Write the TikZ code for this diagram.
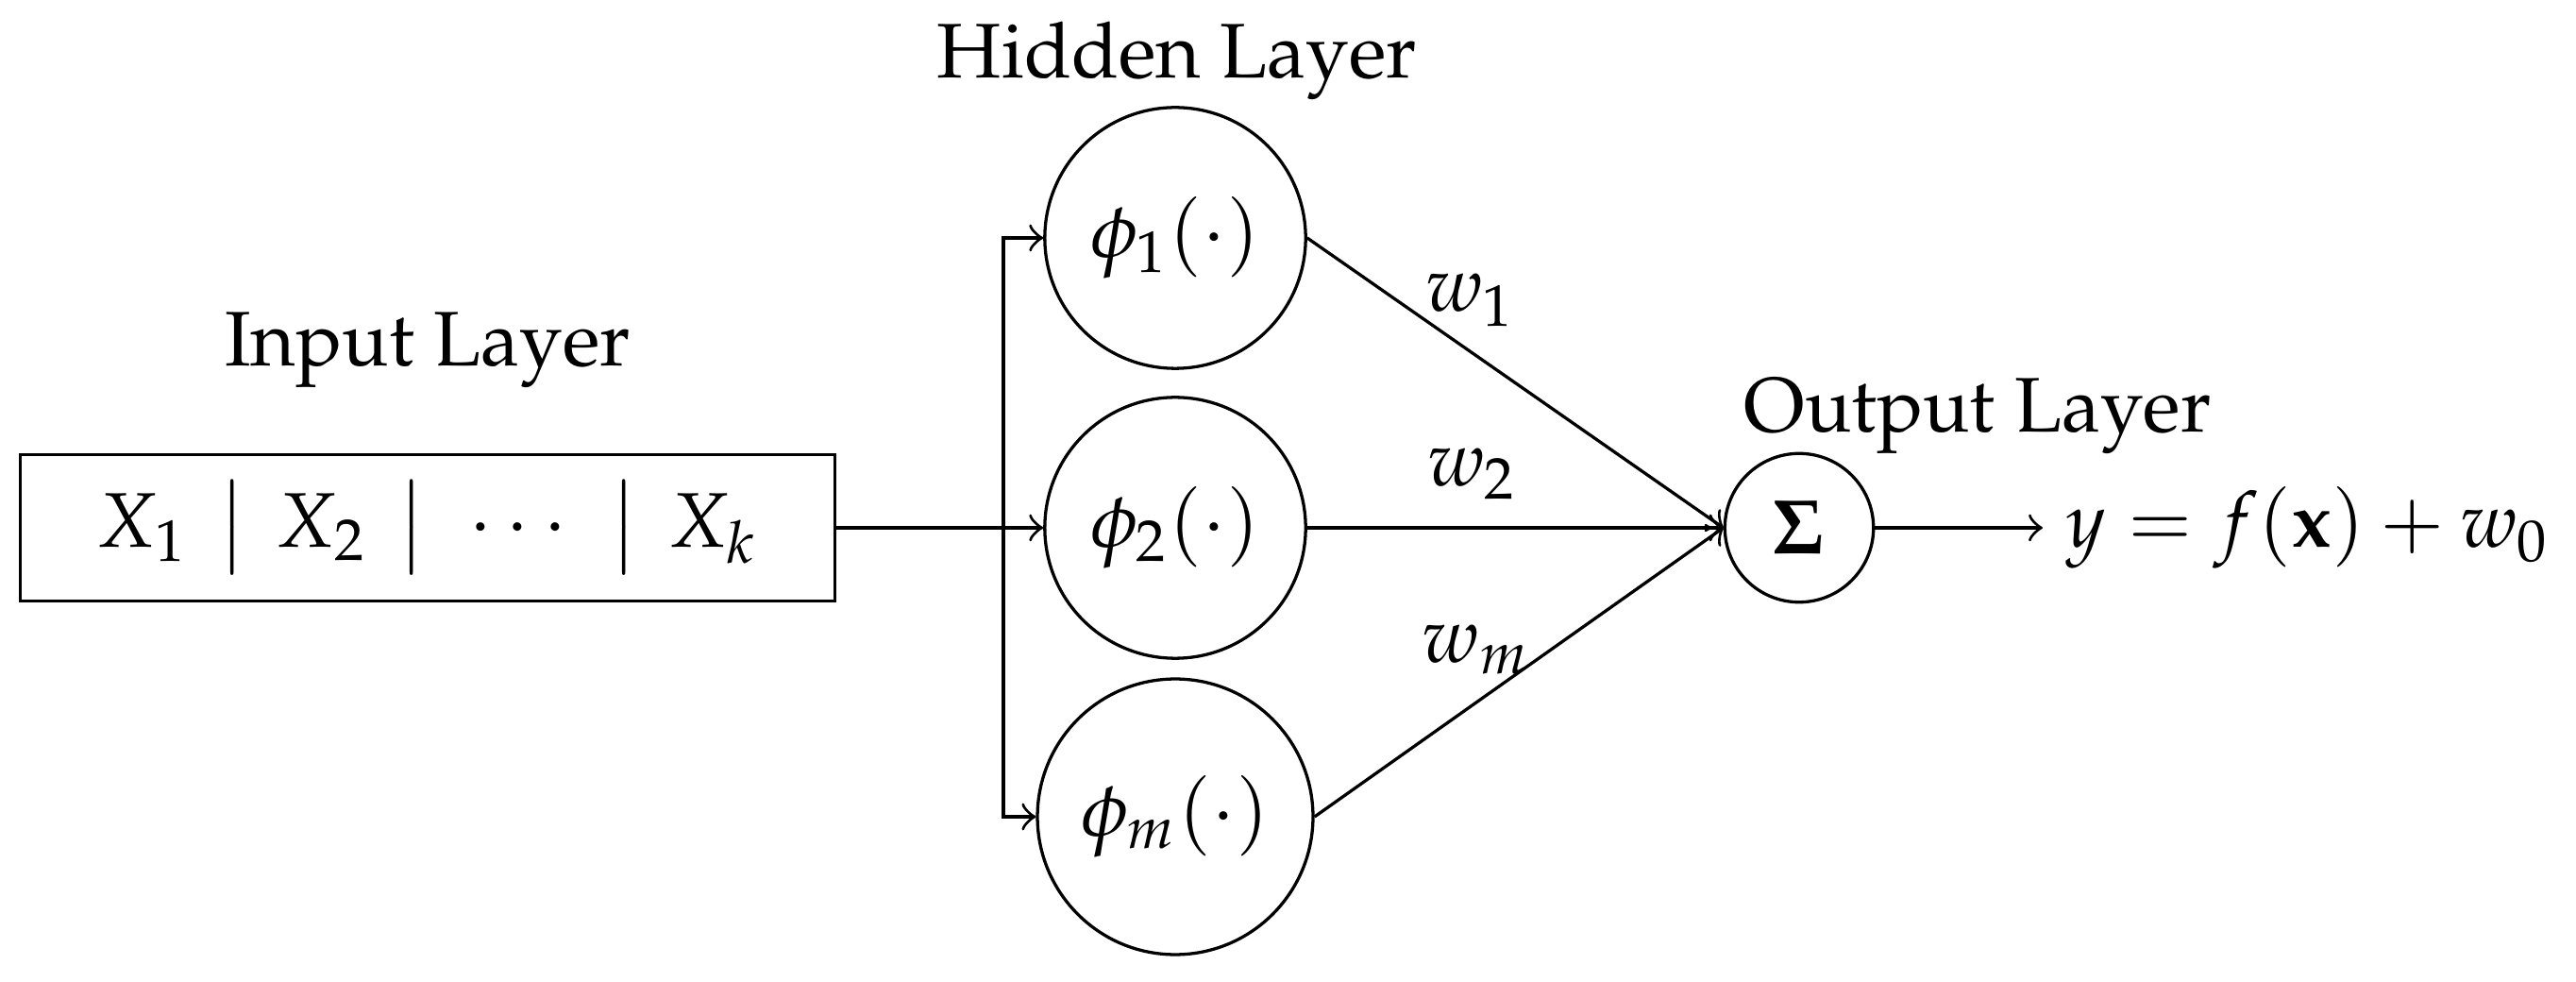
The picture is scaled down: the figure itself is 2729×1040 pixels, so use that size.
\documentclass[tikz,border=0pt]{standalone}
\usepackage[T1]{fontenc}
\usepackage{mathpazo}
\usetikzlibrary{arrows}
\newcommand{\inbar}{\hspace{3.9pt}\big|\hspace{3.9pt}}
\begin{document}
\begin{tikzpicture}[x=0.12195pt,y=-0.12195pt,
  hid/.style={circle,draw,minimum size=33.7pt,inner sep=0pt},
  hidm/.style={circle,draw,minimum size=35.6pt,inner sep=0pt},
  sumnode/.style={circle,draw,minimum size=19.2pt,inner sep=0pt},
  inbox/.style={rectangle,draw,minimum width=105.2pt,minimum height=18.9pt,inner sep=0pt},
  lbl/.style={inner sep=0pt,anchor=base},
  wlbl/.style={inner sep=0pt},
  conn/.style={->}]
\useasboundingbox (0,0) rectangle (2729,1040);
\node[inbox] (in) at (453,559) {$X_1 \inbar X_2 \inbar \cdots \inbar X_k$};
\node[lbl] (inlbl) at (453,388) {Input Layer};
\node[hid] (p1) at (1245,252) {$\phi_1(\cdot)$};
\node[hid] (p2) at (1245,559) {$\phi_2(\cdot)$};
\node[hidm] (pm) at (1245,865) {$\phi_m(\cdot)$};
\node[lbl] (hidlbl) at (1247,83) {Hidden Layer};
\node[sumnode] (s) at (1906,559) {$\mathbf{\Sigma}$};
\node[lbl] (outlbl) at (2095,458) {Output Layer};
\node[anchor=west,inner sep=2.8pt] (out) at (2164,559) {$y = f(\mathbf{x}) + w_0$};
\coordinate (split) at (1063,559);
\draw[conn] (in.east) -- (p2.west);
\draw[conn] (split) |- (p1.west);
\draw[conn] (split) |- (pm.west);
\draw[conn] (p1.east) -- (s.west);
\draw[conn] (p2.east) -- (s.west);
\draw[conn] (pm.east) -- (s.west);
\draw[conn] (s.east) -- (out.west);
\node[wlbl] (w1) at (1558,318) {$w_1$};
\node[wlbl] (w2) at (1560,502) {$w_2$};
\node[wlbl] (wm) at (1564,688) {$w_m$};
\end{tikzpicture}
\end{document}
